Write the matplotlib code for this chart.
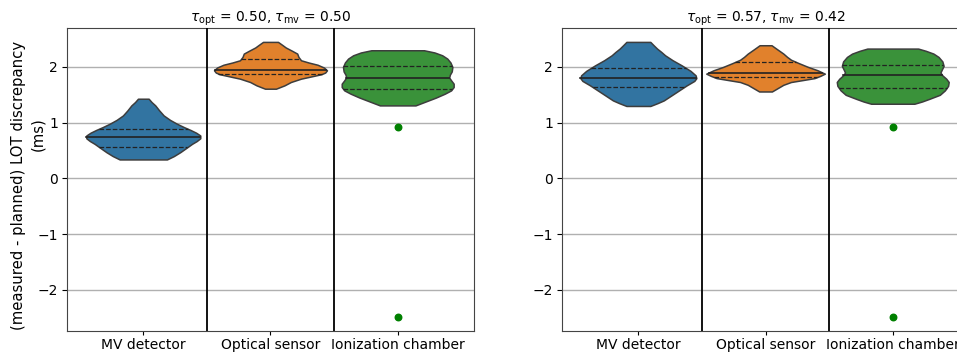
import numpy as np
import matplotlib
matplotlib.use("Agg")
import matplotlib.pyplot as plt

plt.rcParams['mathtext.fontset'] = 'dejavusans'

categories = ["MV detector", "Optical sensor", "Ionization chamber"]
titles = [r"$\tau_{\mathrm{opt}}$ = 0.50, $\tau_{\mathrm{mv}}$ = 0.50",
          r"$\tau_{\mathrm{opt}}$ = 0.57, $\tau_{\mathrm{mv}}$ = 0.42"]
ylabel_main = "(measured - planned) LOT discrepancy"
ylabel_unit = "(ms)"
colors = ["#3274a1", "#e1812c", "#3a923a"]

# Violin profiles: (value levels, relative half widths)
# Panel 1
p1_mv_y = [1.43, 1.37, 1.31, 1.22, 1.13, 1.05, 0.98, 0.92, 0.87, 0.82, 0.77, 0.72, 0.67, 0.62, 0.55, 0.47, 0.40, 0.34]
p1_mv_w = [0.042, 0.065, 0.094, 0.125, 0.16, 0.21, 0.265, 0.32, 0.37, 0.415, 0.448, 0.448, 0.42, 0.383, 0.34, 0.29, 0.24, 0.186]
p1_opt_y = [2.45, 2.40, 2.35, 2.29, 2.24, 2.18, 2.12, 2.08, 2.04, 1.99, 1.94, 1.90, 1.87, 1.83, 1.79, 1.73, 1.67, 1.61]
p1_opt_w = [0.059, 0.09, 0.12, 0.17, 0.21, 0.22, 0.24, 0.30, 0.37, 0.42, 0.444, 0.43, 0.40, 0.32, 0.24, 0.16, 0.11, 0.043]
p1_ion_y = [2.30, 2.26, 2.21, 2.15, 2.08, 2.00, 1.92, 1.86, 1.81, 1.76, 1.70, 1.64, 1.58, 1.52, 1.45, 1.38, 1.31]
p1_ion_w = [0.207, 0.29, 0.35, 0.39, 0.415, 0.43, 0.425, 0.41, 0.405, 0.42, 0.44, 0.44, 0.42, 0.37, 0.30, 0.22, 0.14]
# Panel 2
p2_mv_y = [2.45, 2.39, 2.33, 2.27, 2.21, 2.12, 2.03, 1.93, 1.85, 1.80, 1.75, 1.67, 1.58, 1.49, 1.40, 1.35, 1.30]
p2_mv_w = [0.094, 0.12, 0.147, 0.18, 0.21, 0.27, 0.34, 0.41, 0.45, 0.456, 0.44, 0.38, 0.32, 0.26, 0.20, 0.15, 0.094]
p2_opt_y = [2.39, 2.32, 2.24, 2.18, 2.13, 2.07, 2.00, 1.94, 1.88, 1.84, 1.80, 1.76, 1.73, 1.68, 1.64, 1.60, 1.56]
p2_opt_w = [0.047, 0.09, 0.14, 0.17, 0.20, 0.26, 0.335, 0.41, 0.466, 0.43, 0.385, 0.28, 0.20, 0.14, 0.11, 0.08, 0.05]
p2_ion_y = [2.33, 2.29, 2.24, 2.18, 2.10, 2.02, 1.95, 1.90, 1.85, 1.79, 1.73, 1.66, 1.58, 1.50, 1.43, 1.38, 1.34]
p2_ion_w = [0.20, 0.26, 0.32, 0.36, 0.39, 0.40, 0.385, 0.375, 0.39, 0.42, 0.44, 0.435, 0.41, 0.37, 0.29, 0.23, 0.17]

# Quartiles (q1, median, q3)
p1_quart = [(0.56, 0.75, 0.89), (1.88, 1.95, 2.15), (1.60, 1.81, 2.01)]
p2_quart = [(1.64, 1.80, 1.98), (1.82, 1.90, 2.09), (1.63, 1.85, 2.04)]

# Outliers of the ionization chamber
p1_outliers = [0.93, -2.48]
p2_outliers = [0.93, -2.48]

panels = [
    ([(p1_mv_y, p1_mv_w), (p1_opt_y, p1_opt_w), (p1_ion_y, p1_ion_w)], p1_quart, p1_outliers),
    ([(p2_mv_y, p2_mv_w), (p2_opt_y, p2_opt_w), (p2_ion_y, p2_ion_w)], p2_quart, p2_outliers),
]

fig = plt.figure(figsize=(9.57, 3.52), dpi=100)
ax_pos = [[0.070, 0.0597, 0.4253, 0.8608], [0.5873, 0.0597, 0.4253, 0.8608]]

for k, ((profiles, quarts, outl), pos) in enumerate(zip(panels, ax_pos)):
    ax = fig.add_axes(pos)
    for i, (yv, wv) in enumerate(profiles):
        yv = np.asarray(yv); wv = np.asarray(wv)
        ax.fill_betweenx(yv, i - wv, i + wv, facecolor=colors[i],
                         edgecolor="#3d3d3d", linewidth=1.1, zorder=2)
        order = np.argsort(yv)
        for q, ls, lw in zip(quarts[i], ["--", "-", "--"], [0.9, 1.2, 0.9]):
            hw = np.interp(q, yv[order], wv[order])
            ax.plot([i - hw, i + hw], [q, q], color="#222222", linestyle=ls,
                    linewidth=lw, zorder=3)
    ax.scatter([2] * len(outl), outl, color="green", s=22, zorder=4)
    for b in [0.5, 1.5]:
        ax.axvline(b, color="black", linewidth=1.3, zorder=3)
    ax.set_xlim(-0.6, 2.6)
    ax.set_ylim(-2.74, 2.70)
    ax.set_yticks([-2, -1, 0, 1, 2])
    ax.set_xticks(range(len(categories)))
    ax.set_xticklabels(categories, fontsize=10)
    ax.tick_params(axis='x', length=3, pad=2)
    ax.tick_params(axis='y', labelsize=10, length=3.5, pad=3)
    ax.yaxis.grid(True, color="#b0b0b0", linewidth=1.0, zorder=0)
    ax.set_axisbelow(True)
    ax.set_title(titles[k], fontsize=10, pad=4)
    for s in ax.spines.values():
        s.set_color("#444444")
    if k == 0:
        ax.set_ylabel(ylabel_main, fontsize=10.7)
        ax.yaxis.set_label_coords(-0.10, 0.482)

fig.text(38 / 957, 1 - 134 / 352, ylabel_unit, rotation=90, fontsize=10.7,
         ha="center", va="center")

fig.savefig("out.png", dpi=100)
